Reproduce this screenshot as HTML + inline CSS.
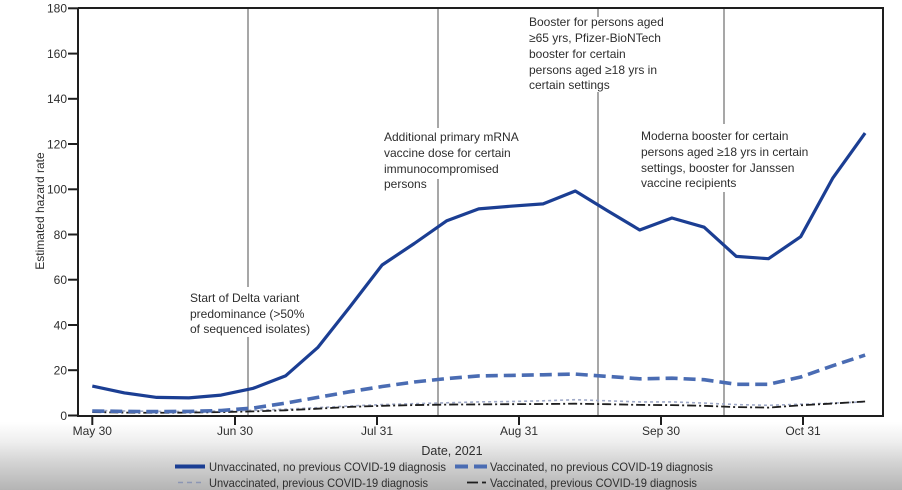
<!DOCTYPE html>
<html>
<head>
<meta charset="utf-8">
<style>
html,body{margin:0;padding:0;background:#fff;}
svg{display:block;}
text{font-family:"Liberation Sans",Arial,sans-serif;fill:#2e2e2e;}
</style>
</head>
<body>
<svg width="902" height="490" viewBox="0 0 902 490" xmlns="http://www.w3.org/2000/svg">
<defs>
<linearGradient id="bg" x1="0" y1="0" x2="0" y2="1">
<stop offset="0" stop-color="#ffffff"/>
<stop offset="0.3" stop-color="#eeeeee"/>
<stop offset="0.6" stop-color="#d3d3d3"/>
<stop offset="1" stop-color="#b4b4b4"/>
</linearGradient>
</defs>
<rect x="0" y="0" width="902" height="490" fill="#fff"/>
<rect x="0" y="422" width="902" height="68" fill="url(#bg)"/>

<!-- event vertical lines -->
<g stroke="#8a8a8a" stroke-width="1.5">
<line x1="248" y1="8" x2="248" y2="416"/>
<line x1="438" y1="8" x2="438" y2="416"/>
<line x1="598" y1="8" x2="598" y2="416"/>
<line x1="724" y1="8" x2="724" y2="416"/>
</g>
<!-- gaps behind annotation text -->
<g fill="#fff">
<rect x="244" y="287" width="8" height="50"/>
<rect x="434" y="128" width="8" height="51"/>
<rect x="594" y="17" width="8" height="75"/>
<rect x="720" y="124" width="8" height="68"/>
</g>

<!-- annotations -->
<g font-size="12">
<text x="190" y="302">Start of Delta variant</text>
<text x="190" y="318">predominance (&gt;50%</text>
<text x="190" y="333">of sequenced isolates)</text>

<text x="384" y="141">Additional primary mRNA</text>
<text x="384" y="157">vaccine dose for certain</text>
<text x="384" y="173">immunocompromised</text>
<text x="384" y="188">persons</text>

<text x="529" y="26">Booster for persons aged</text>
<text x="529" y="42">≥65 yrs, Pfizer-BioNTech</text>
<text x="529" y="58">booster for certain</text>
<text x="529" y="74">persons aged ≥18 yrs in</text>
<text x="529" y="89">certain settings</text>

<text x="641" y="140">Moderna booster for certain</text>
<text x="641" y="156">persons aged ≥18 yrs in certain</text>
<text x="641" y="172">settings, booster for Janssen</text>
<text x="641" y="187">vaccine recipients</text>
</g>

<!-- series -->
<g fill="none" stroke-linejoin="round" stroke-linecap="butt">
<!-- Unvaccinated, previous (gray dotted) -->
<polyline stroke="#9ea8c6" stroke-width="1.6" stroke-dasharray="3,3"
points="92.3,410.3 124.5,411.0 156.7,411.4 188.9,411.4 221.1,411.0 253.3,410.3 285.5,409.2 317.7,407.6 349.9,406.0 382.1,404.6 414.3,403.7 446.5,402.8 478.7,401.9 510.9,401.5 543.1,400.8 575.3,399.7 607.5,400.8 639.7,401.9 671.9,401.9 704.1,403.1 736.3,404.6 768.5,405.3 800.7,404.2 832.9,403.1 865.1,401.9"/>
<!-- Vaccinated, previous (black dash-dot) -->
<polyline stroke="#1e1e1e" stroke-width="1.8" stroke-dasharray="9,3,2,3"
points="92.3,412.1 124.5,412.6 156.7,412.8 188.9,412.6 221.1,412.1 253.3,411.4 285.5,410.3 317.7,408.7 349.9,406.9 382.1,405.8 414.3,405.1 446.5,404.6 478.7,404.4 510.9,404.2 543.1,404.0 575.3,403.7 607.5,404.2 639.7,404.9 671.9,405.1 704.1,405.8 736.3,407.1 768.5,407.6 800.7,405.3 832.9,403.5 865.1,401.5"/>
<!-- Vaccinated, no previous (blue dashed) -->
<polyline stroke="#4a6cb3" stroke-width="3.6" stroke-dasharray="12,6"
points="92.3,411.0 124.5,411.4 156.7,411.6 188.9,411.4 221.1,410.5 253.3,408.0 285.5,403.1 317.7,397.4 349.9,391.7 382.1,386.5 414.3,382.0 446.5,378.6 478.7,375.9 510.9,375.4 543.1,374.8 575.3,374.1 607.5,376.4 639.7,378.8 671.9,378.2 704.1,379.7 736.3,384.3 768.5,384.3 800.7,377.0 832.9,365.7 865.1,355.1"/>
<!-- Unvaccinated, no previous (solid dark blue) -->
<polyline stroke="#1b3e93" stroke-width="3.2"
points="92.3,386.1 124.5,392.9 156.7,397.4 188.9,397.9 221.1,395.1 253.3,388.3 285.5,375.9 317.7,347.6 349.9,306.9 382.1,265.0 414.3,243.5 446.5,220.9 478.7,208.9 510.9,206.2 543.1,203.9 575.3,191.0 607.5,210.7 639.7,230.0 671.9,218.0 704.1,227.2 736.3,256.4 768.5,258.7 800.7,236.7 832.9,177.9 865.1,133.1"/>
</g>

<!-- axes box -->
<g stroke="#1e1e1e" stroke-width="2" fill="none">
<polyline points="78,8 883,8 883,416 78,416 78,8"/>
</g>
<!-- y ticks -->
<g stroke="#1e1e1e" stroke-width="2">
<line x1="68" y1="8.3" x2="78" y2="8.3"/>
<line x1="68" y1="53.6" x2="78" y2="53.6"/>
<line x1="68" y1="98.8" x2="78" y2="98.8"/>
<line x1="68" y1="144.0" x2="78" y2="144.0"/>
<line x1="68" y1="189.3" x2="78" y2="189.3"/>
<line x1="68" y1="234.5" x2="78" y2="234.5"/>
<line x1="68" y1="279.7" x2="78" y2="279.7"/>
<line x1="68" y1="325.0" x2="78" y2="325.0"/>
<line x1="68" y1="370.2" x2="78" y2="370.2"/>
<line x1="68" y1="415.5" x2="78" y2="415.5"/>
<!-- x ticks -->
<line x1="92.3" y1="416" x2="92.3" y2="425"/>
<line x1="235" y1="416" x2="235" y2="425"/>
<line x1="377" y1="416" x2="377" y2="425"/>
<line x1="519" y1="416" x2="519" y2="425"/>
<line x1="661" y1="416" x2="661" y2="425"/>
<line x1="803" y1="416" x2="803" y2="425"/>
</g>
<g font-size="12" text-anchor="end">
<text x="67" y="12.6">180</text>
<text x="67" y="57.9">160</text>
<text x="67" y="103.1">140</text>
<text x="67" y="148.3">120</text>
<text x="67" y="193.6">100</text>
<text x="67" y="238.8">80</text>
<text x="67" y="284.0">60</text>
<text x="67" y="329.3">40</text>
<text x="67" y="374.5">20</text>
<text x="67" y="419.8">0</text>
</g>
<g font-size="12" text-anchor="middle">
<text x="92.3" y="435">May 30</text>
<text x="235" y="435">Jun 30</text>
<text x="377" y="435">Jul 31</text>
<text x="519" y="435">Aug 31</text>
<text x="661" y="435">Sep 30</text>
<text x="803" y="435">Oct 31</text>
<text x="452" y="455" font-size="12.5">Date, 2021</text>
</g>
<text font-size="12" text-anchor="middle" transform="translate(44,211) rotate(-90)">Estimated hazard rate</text>

<!-- legend -->
<g fill="none">
<line x1="175" y1="466.5" x2="205" y2="466.5" stroke="#1b3e93" stroke-width="4"/>
<line x1="455" y1="466.5" x2="487" y2="466.5" stroke="#4a6cb3" stroke-width="4" stroke-dasharray="13,6"/>
<line x1="178" y1="482.5" x2="205" y2="482.5" stroke="#8c96b4" stroke-width="1.5" stroke-dasharray="5,4"/>
<line x1="467" y1="482.5" x2="478" y2="482.5" stroke="#1e1e1e" stroke-width="1.8"/>
<line x1="482" y1="482.5" x2="486" y2="482.5" stroke="#1e1e1e" stroke-width="1.8"/>
</g>
<g font-size="12">
<text x="209" y="471" textLength="237" lengthAdjust="spacingAndGlyphs">Unvaccinated, no previous COVID-19 diagnosis</text>
<text x="490" y="471" textLength="223" lengthAdjust="spacingAndGlyphs">Vaccinated, no previous COVID-19 diagnosis</text>
<text x="209" y="487" textLength="219" lengthAdjust="spacingAndGlyphs">Unvaccinated, previous COVID-19 diagnosis</text>
<text x="490" y="487" textLength="207" lengthAdjust="spacingAndGlyphs">Vaccinated, previous COVID-19 diagnosis</text>
</g>
</svg>
</body>
</html>
